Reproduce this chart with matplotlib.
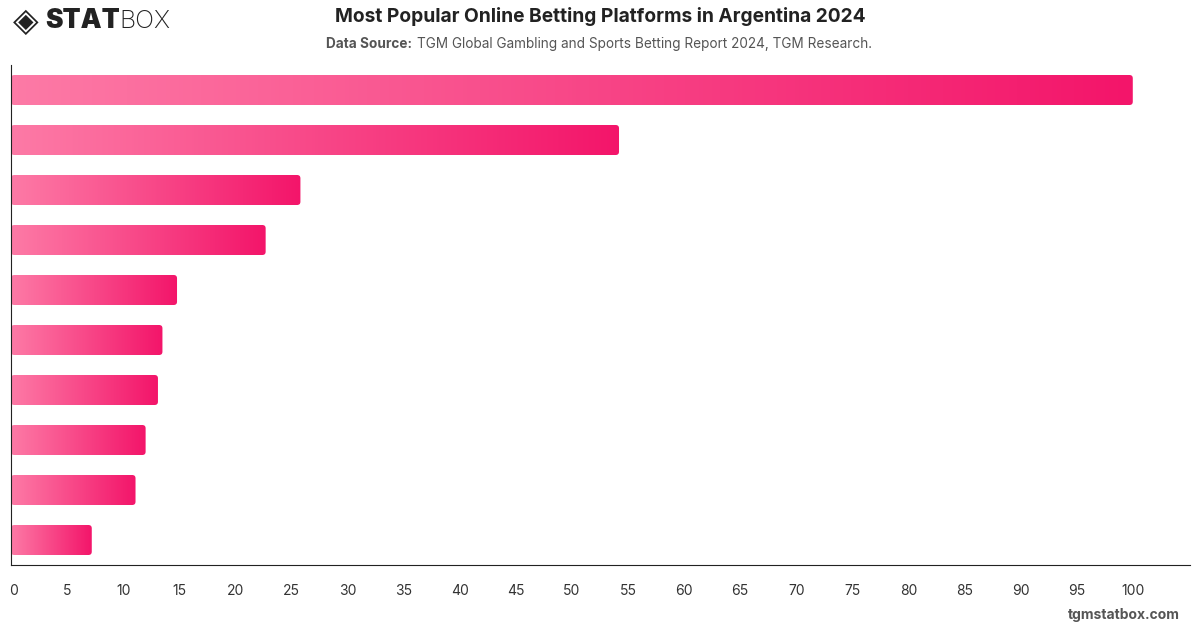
import numpy as np
import matplotlib.pyplot as plt
import matplotlib.transforms as mtransforms
from matplotlib.patches import FancyBboxPatch
from matplotlib.colors import LinearSegmentedColormap

plt.rcParams['font.family'] = ['Inter', 'DejaVu Sans']

# data (no category labels shown), top to bottom
values = [100, 54.2, 25.8, 22.7, 14.8, 13.5, 13.1, 12.0, 11.1, 7.2]
xticks = list(range(0, 101, 5))

grad = LinearSegmentedColormap.from_list('pinks', ['#fd7aa6', '#f3156a'])

fig = plt.figure(figsize=(12, 6.28), dpi=100)
ax = fig.add_axes([11 / 1200, 1 - 565 / 628, 1179 / 1200, 500 / 628])

xmax = 105.1
bar_h = 0.6
for i, v in enumerate(values):
    patch = FancyBboxPatch((0, i - bar_h / 2), v, bar_h,
                           boxstyle='round,pad=0,rounding_size=0.3',
                           mutation_aspect=0.22,
                           facecolor='none', edgecolor='none')
    ax.add_patch(patch)
    img = ax.imshow(np.linspace(0, 1, 256).reshape(1, -1), cmap=grad,
                    aspect='auto', extent=[0, v, i + bar_h / 2, i - bar_h / 2],
                    interpolation='bilinear')
    img.set_clip_path(patch)

ax.set_xlim(0, xmax)
ax.set_ylim(len(values) - 0.5, -0.5)
ax.set_xticks(xticks)
ax.set_xticklabels([str(t) for t in xticks], fontsize=10, color='#333333')
ax.tick_params(axis='x', length=0, pad=14)
# the "0" label sits a touch right of the axis line
lbl0 = ax.get_xticklabels()[0]
lbl0.set_transform(lbl0.get_transform() +
                   mtransforms.ScaledTranslation(3 / 100, 0, fig.dpi_scale_trans))
ax.set_yticks([])
ax.spines['top'].set_visible(False)
ax.spines['right'].set_visible(False)
ax.spines['left'].set_color('#222222')
ax.spines['bottom'].set_color('#222222')

fig.text(0.5, 1 - 17 / 628, 'Most Popular Online Betting Platforms in Argentina 2024',
         ha='center', va='center', fontsize=13.8, fontweight='bold', color='#222222')
fig.text(326, 628 - 44, 'Data Source:', transform=None,
         ha='left', va='center', fontsize=9.8, fontweight='bold', color='#555555')
fig.text(417, 628 - 44, 'TGM Global Gambling and Sports Betting Report 2024, TGM Research.',
         transform=None, ha='left', va='center', fontsize=9.8, color='#555555')

# logo
fig.text(13, 628 - 21, '\u25c8', transform=None, ha='left', va='center',
         fontsize=24, color='#222222', family='DejaVu Sans')
fig.text(45, 628 - 21, 'STAT', transform=None, ha='left', va='center',
         fontsize=19, fontweight='black', color='#222222')
fig.text(119, 628 - 21, 'BOX', transform=None, ha='left', va='center',
         fontsize=18, fontweight='light', color='#222222')

fig.text(1180, 628 - 615, 'tgmstatbox.com', transform=None, ha='right', va='center',
         fontsize=10, fontweight='bold', color='#555555')

fig.savefig('out.png', dpi=100)
